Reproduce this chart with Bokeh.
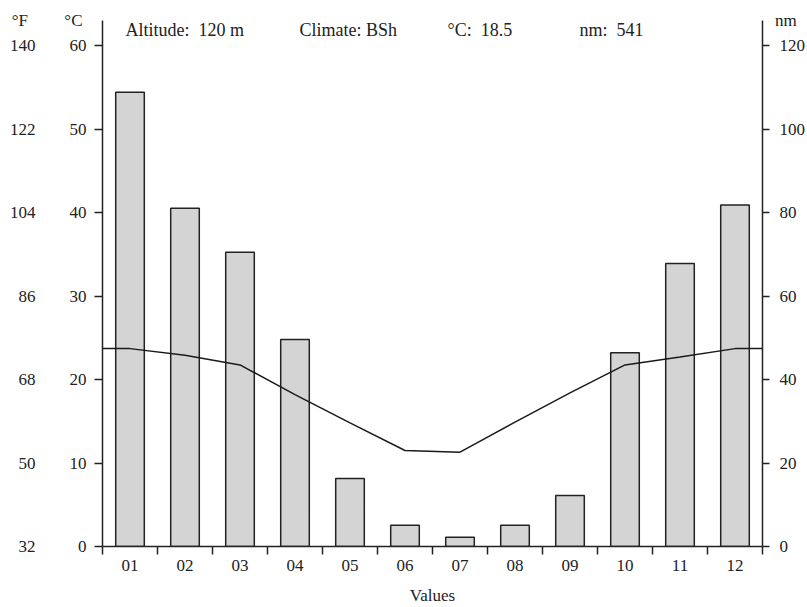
from bokeh.plotting import figure
from bokeh.models import Range1d, LinearAxis, FixedTicker, Label
from bokeh.embed import file_html
from bokeh.resources import INLINE

# ---- data ----
months = ["01", "02", "03", "04", "05", "06", "07", "08", "09", "10", "11", "12"]
precip_mm = [108.8, 81.0, 70.5, 49.6, 16.3, 5.1, 2.2, 5.1, 12.2, 46.4, 67.8, 81.8]
temp_c = [23.7, 22.9, 21.75, 18.2, 14.8, 11.5, 11.3, 14.9, 18.4, 21.75, 22.7, 23.7]
c_ticks = [0, 10, 20, 30, 40, 50, 60]
f_tick_labels = ["32", "50", "68", "86", "104", "122", "140"]
mm_ticks = [0, 20, 40, 60, 80, 100, 120]
altitude_m = 120
climate = "BSh"
mean_temp = 18.5
total_precip = 541

FONT = "Liberation Serif"
FS = "17px"
HFS = "18px"
INK = "#222222"

n = len(months)
centers = [i + 0.5 for i in range(n)]

p = figure(width=807, height=607, output_backend="svg", toolbar_location=None,
           x_range=Range1d(0, n), y_range=Range1d(0, 63),
           min_border_left=102, min_border_right=45, min_border_top=20, min_border_bottom=60)
p.extra_y_ranges = {"mm": Range1d(0, 126)}
p.outline_line_color = None
p.grid.visible = False

def style(ax):
    ax.axis_line_color = INK
    ax.axis_line_width = 1.5
    ax.major_tick_line_color = INK
    ax.major_tick_line_width = 1.5
    ax.major_tick_in = 0
    ax.major_tick_out = 8
    ax.minor_tick_line_color = None
    ax.major_label_text_font = FONT
    ax.major_label_text_font_size = FS
    ax.major_label_text_color = INK
    ax.axis_label_text_font = FONT
    ax.axis_label_text_font_size = FS
    ax.axis_label_text_font_style = "normal"
    ax.axis_label_text_color = INK

def top_label(ax, text, standoff):
    ax.axis_label = text
    ax.axis_label_orientation = "horizontal"
    ax.axis_label_align = "end"
    ax.axis_label_standoff = standoff

# x axis: ticks at month boundaries, labels at centers
xa = p.xaxis[0]
style(xa)
xa.ticker = FixedTicker(ticks=centers, minor_ticks=list(range(n + 1)))
xa.major_label_overrides = {c: m for c, m in zip(centers, months)}
xa.major_tick_line_color = None
xa.minor_tick_line_color = INK
xa.minor_tick_line_width = 1.5
xa.minor_tick_in = 0
xa.minor_tick_out = 8
xa.major_label_standoff = 5
xa.axis_label = "Values"
xa.axis_label_standoff = 12

# left °C axis
ya = p.yaxis[0]
style(ya)
ya.ticker = FixedTicker(ticks=c_ticks)
ya.major_label_standoff = 8
top_label(ya, "°C", -16)

# outer °F axis (labels only)
fa = LinearAxis(ticker=FixedTicker(ticks=c_ticks),
                major_label_overrides={c: f for c, f in zip(c_ticks, f_tick_labels)})
style(fa)
fa.axis_line_color = None
fa.major_tick_line_color = None
fa.major_tick_out = 0
fa.major_label_standoff = 26
top_label(fa, "°F", -21)
p.add_layout(fa, "left")

# right precipitation axis
ra = LinearAxis(y_range_name="mm", ticker=FixedTicker(ticks=mm_ticks))
style(ra)
ra.major_tick_out = 7
ra.major_label_standoff = 10
top_label(ra, "nm", -33)
p.add_layout(ra, "right")

# bars (precipitation)
p.vbar(x=centers, top=precip_mm, bottom=0, width=0.52, y_range_name="mm",
       fill_color="#d4d4d4", line_color=INK, line_width=1.5)

# temperature line, extended to the frame edges
edge = (temp_c[0] + temp_c[-1]) / 2
p.line([0] + centers + [n], [edge] + temp_c + [edge], line_color="#1a1a1a", line_width=1.5)

def lab(x, y, text):
    p.add_layout(Label(x=x, y=y, x_units="screen", y_units="screen", text=text,
                       text_align="left", text_baseline="middle", text_font=FONT,
                       text_font_size=HFS, text_color=INK))

lab(23, 517, f"Altitude:\u00a0 {altitude_m} m")
lab(197, 517, f"Climate: {climate}")
lab(345, 517, f"°C:\u00a0 {mean_temp}")
lab(477, 517, f"nm:\u00a0 {total_precip}")

open("out.html", "w").write(file_html(p, INLINE))
